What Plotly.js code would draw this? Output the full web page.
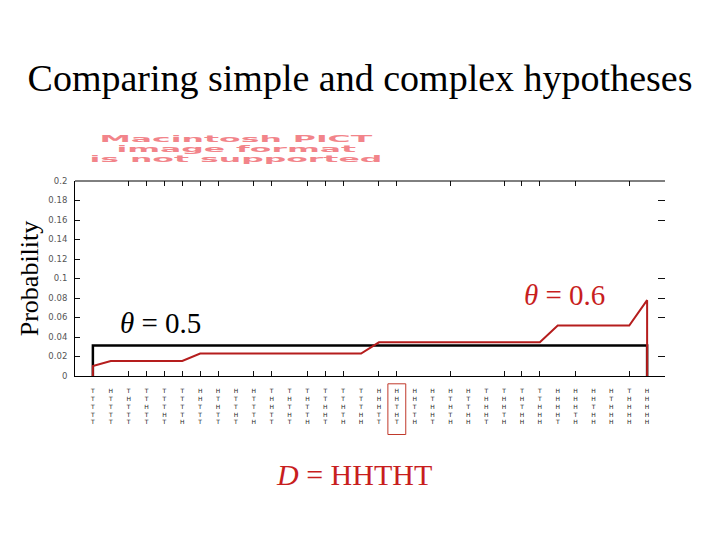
<!DOCTYPE html>
<html>
<head>
<meta charset="utf-8">
<script src="https://cdn.plot.ly/plotly-3.0.1.min.js"></script>
<style>html,body{margin:0;padding:0;background:#fff;}#chart{width:720px;height:540px;}</style>
</head>
<body>
<div id="chart"></div>
<script>
var sequences = [
  "TTTTT",
  "HTTTT","THTTT","TTHTT","TTTHT","TTTTH",
  "HHTTT","HTHTT","HTTHT","HTTTH","THHTT","THTHT","THTTH","TTHHT","TTHTH","TTTHH",
  "HHHTT","HHTHT","HHTTH","HTHHT","HTHTH","HTTHH","THHHT","THHTH","THTHH","TTHHH",
  "HHHHT","HHHTH","HHTHH","HTHHH","THHHH",
  "HHHHH"
];
var seqIndex = [0,1,2,3,4,5,6,7,8,9,10,11,12,13,14,15,16,17,18,19,20,21,22,23,24,25,26,27,28,29,30,31];
var probSimple = [0.03125,0.03125,0.03125,0.03125,0.03125,0.03125,0.03125,0.03125,0.03125,0.03125,0.03125,0.03125,0.03125,0.03125,0.03125,0.03125,0.03125,0.03125,0.03125,0.03125,0.03125,0.03125,0.03125,0.03125,0.03125,0.03125,0.03125,0.03125,0.03125,0.03125,0.03125,0.03125];
var probComplex = [0.01024,0.01536,0.01536,0.01536,0.01536,0.01536,0.02304,0.02304,0.02304,0.02304,0.02304,0.02304,0.02304,0.02304,0.02304,0.02304,0.03456,0.03456,0.03456,0.03456,0.03456,0.03456,0.03456,0.03456,0.03456,0.03456,0.05184,0.05184,0.05184,0.05184,0.05184,0.07776];
var observed = "HHTHT";
var bottomTicks = [2,3,4,5,6,7,9,10,12,13,14,16,17,20,23,24,25,27,30];
var rightTicks = [0.02,0.06,0.08,0.1,0.16,0.18];
var pictLines = ["Macintosh PICT", "image format", "is not supported"];

var tickText = sequences.map(function(s){ return s.split("").join("<br>"); });
var obsIdx = sequences.indexOf(observed);
function closed(arr){ return [0].concat(arr).concat([0]); }
var xClosed = [seqIndex[0]].concat(seqIndex).concat([seqIndex[seqIndex.length-1]]);

var red = "#b51d1d";
var tickCol = "#111";
var serif = "Liberation Serif, Times New Roman, serif";
var traces = [
  {x: xClosed, y: closed(probSimple), mode: "lines", line: {color: "#000", width: 2.5}, hoverinfo: "skip"},
  {x: xClosed, y: closed(probComplex), mode: "lines", line: {color: red, width: 2}, hoverinfo: "skip"},
  {x: [], y: [], xaxis: "x2", yaxis: "y2", hoverinfo: "skip"}
];

var pictY = [1.214, 1.163, 1.113];
var annotations = [
  {text: "<i>θ</i> = 0.5", x: 1.4, y: 0.0545, xref: "x", yref: "y", xanchor: "left", yanchor: "middle", showarrow: false,
   font: {family: serif, size: 29, color: "#000"}},
  {text: "<i>θ</i> = 0.6", x: 24.0, y: 0.0826, xref: "x", yref: "y", xanchor: "left", yanchor: "middle", showarrow: false,
   font: {family: serif, size: 29, color: "#c81e1e"}},
  {text: "<i>D</i> = " + observed, x: 0.473, y: -0.505, xref: "paper", yref: "paper", xanchor: "center", yanchor: "middle", showarrow: false,
   font: {family: serif, size: 30, color: "#c81e1e"}}
];
pictLines.forEach(function(t, i){
  annotations.push({text: t, x: 0.273, y: pictY[i], xref: "paper", yref: "paper", xanchor: "center", yanchor: "middle", showarrow: false,
    font: {family: "DejaVu Sans", size: 9, color: "#f2848a", weight: "bold"}});
});

var layout = {
  width: 720, height: 540,
  margin: {l: 75, r: 55, t: 181, b: 164},
  paper_bgcolor: "#fff", plot_bgcolor: "#fff",
  showlegend: false,
  title: {text: "Comparing simple and complex hypotheses", x: 0.5, xref: "container", xanchor: "center", y: 0.857, yanchor: "middle",
          font: {family: serif, size: 38, color: "#000"}},
  xaxis: {range: [-1, 32], tickvals: seqIndex, ticktext: tickText, ticks: "", showline: true, mirror: false,
          linecolor: "#000", linewidth: 1, showgrid: false, zeroline: false, ticklabelstandoff: 9,
          tickfont: {family: "DejaVu Sans", size: 6, color: "#222"}, fixedrange: true},
  xaxis2: {overlaying: "x", range: [-1, 32], tickvals: bottomTicks, ticks: "inside", ticklen: 5, tickcolor: tickCol,
           mirror: "ticks", showline: false, linecolor: "rgba(0,0,0,0)", linewidth: 0,
           showticklabels: false, showgrid: false, zeroline: false, side: "bottom"},
  yaxis: {range: [0, 0.2], dtick: 0.02, tick0: 0, ticks: "inside", ticklen: 5, tickcolor: tickCol, showline: true,
          linecolor: "#000", linewidth: 1, mirror: false, showgrid: false, zeroline: false, ticklabelstandoff: 5,
          tickfont: {family: "DejaVu Sans", size: 8.5, color: "#555"}, automargin: true,
          title: {text: "Probability", standoff: 2, font: {family: serif, size: 26, color: "#000"}}},
  yaxis2: {overlaying: "y", side: "right", anchor: "free", position: 1, range: [0, 0.2], tickvals: rightTicks, ticks: "inside", ticklen: 7, tickcolor: tickCol,
           showline: false, linecolor: "rgba(0,0,0,0)", linewidth: 0,
           showticklabels: false, showgrid: false, zeroline: false},
  shapes: [
    {type: "line", xref: "paper", yref: "paper", x0: 0, x1: 1, y0: 1, y1: 1, line: {color: "#000", width: 1}},
    {type: "rect", xref: "x", yref: "paper", x0: obsIdx - 0.5, x1: obsIdx + 0.5, y0: -0.04, y1: -0.30,
     line: {color: "#c0392b", width: 1}}
  ],
  annotations: annotations
};

Plotly.newPlot("chart", traces, layout, {staticPlot: true}).then(function(){
  var anns = document.querySelectorAll(".annotation-text");
  anns.forEach(function(t){
    if (pictLines.indexOf(t.textContent) >= 0) {
      t.style.transformBox = "fill-box";
      t.style.transformOrigin = "center";
      t.style.transform = "scaleX(3.5)";
    }
  });
});
</script>
</body>
</html>
